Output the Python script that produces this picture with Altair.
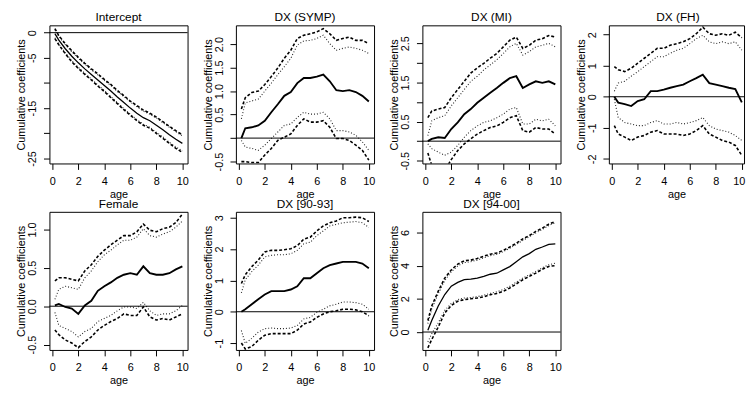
import json
import altair as alt
import pandas as pd

FONT = "Liberation Sans"

AGE = [0.2, 0.5, 1.0, 1.5, 2.0, 2.5, 3.0, 3.5, 4.0, 4.5, 5.0,
       5.5, 6.0, 6.5, 7.0, 7.5, 8.0, 8.5, 9.0, 9.5, 10.0]

PANELS = ["Intercept", "DX (SYMP)", "DX (MI)", "DX (FH)",
          "Female", "DX [90-93]", "DX [94-00]"]

# cumulative coefficient estimates (solid)
EST = {
    "Intercept": [-0.2, -1.5, -3.2, -4.7, -6.0, -7.2, -8.3, -9.4, -10.5, -11.6, -12.8,
                  -13.9, -15.0, -16.0, -16.9, -17.5, -18.4, -19.3, -20.3, -21.2, -22.0],
    "DX (SYMP)": [0.0, 0.21, 0.23, 0.27, 0.37, 0.55, 0.72, 0.90, 0.98, 1.17, 1.28,
                  1.28, 1.31, 1.35, 1.21, 1.02, 1.00, 1.02, 0.98, 0.90, 0.78],
    "DX (MI)": [0.0, 0.06, 0.10, 0.08, 0.31, 0.48, 0.69, 0.82, 0.98, 1.11, 1.24,
                1.36, 1.49, 1.61, 1.66, 1.36, 1.45, 1.53, 1.49, 1.53, 1.45],
    "DX (FH)": [0.0, -0.19, -0.24, -0.30, -0.14, -0.08, 0.18, 0.18, 0.23, 0.29, 0.34,
                0.39, 0.50, 0.60, 0.71, 0.44, 0.39, 0.34, 0.29, 0.25, -0.18],
    "Female": [0.01, 0.03, -0.01, -0.03, -0.10, 0.01, 0.07, 0.20, 0.26, 0.31, 0.37,
               0.41, 0.43, 0.41, 0.52, 0.43, 0.41, 0.41, 0.43, 0.48, 0.52],
    "DX [90-93]": [0.0, 0.08, 0.24, 0.40, 0.55, 0.66, 0.66, 0.66, 0.71, 0.81, 1.07,
                   1.07, 1.23, 1.39, 1.49, 1.54, 1.59, 1.59, 1.59, 1.54, 1.39],
    "DX [94-00]": [0.10, 0.69, 1.57, 2.26, 2.76, 2.99, 3.15, 3.19, 3.25, 3.35, 3.48,
                   3.54, 3.74, 3.94, 4.23, 4.53, 4.72, 4.98, 5.12, 5.28, 5.31],
}

# outer (dashed) upper / lower curves
OUTER_HI = {
    "Intercept": [0.8, -0.6, -2.2, -3.6, -4.9, -6.1, -7.2, -8.2, -9.3, -10.3, -11.5,
                  -12.5, -13.6, -14.5, -15.4, -16.0, -16.8, -17.7, -18.6, -19.5, -20.3],
    "DX (SYMP)": [0.62, 0.86, 0.97, 1.00, 1.14, 1.31, 1.49, 1.70, 1.87, 2.12, 2.19,
                  2.22, 2.26, 2.33, 2.22, 2.08, 2.12, 2.15, 2.08, 2.08, 2.01],
    "DX (MI)": [0.60, 0.77, 0.82, 0.86, 1.11, 1.32, 1.53, 1.74, 1.87, 1.99, 2.12,
                2.24, 2.41, 2.58, 2.66, 2.37, 2.45, 2.58, 2.62, 2.70, 2.66],
    "DX (FH)": [0.97, 0.87, 0.81, 0.92, 1.08, 1.24, 1.40, 1.56, 1.56, 1.66, 1.71,
                1.77, 1.87, 2.03, 2.24, 2.03, 1.98, 2.03, 1.98, 2.08, 1.90],
    "Female": [0.33, 0.37, 0.37, 0.35, 0.33, 0.46, 0.54, 0.65, 0.73, 0.80, 0.86,
               0.92, 0.92, 0.97, 1.07, 0.99, 0.97, 1.01, 1.03, 1.09, 1.20],
    "DX [90-93]": [0.90, 1.18, 1.44, 1.65, 1.91, 1.96, 1.96, 1.98, 2.01, 2.11, 2.32,
                   2.38, 2.58, 2.74, 2.84, 2.90, 3.00, 3.00, 3.02, 3.00, 2.88],
    "DX [94-00]": [0.69, 1.57, 2.46, 3.25, 3.74, 4.09, 4.29, 4.33, 4.43, 4.57, 4.69,
                   4.76, 4.92, 5.12, 5.35, 5.61, 5.81, 6.06, 6.26, 6.50, 6.65],
}
OUTER_LO = {
    "Intercept": [-1.2, -2.4, -4.2, -5.8, -7.1, -8.3, -9.4, -10.6, -11.7, -12.9, -14.1,
                  -15.3, -16.4, -17.5, -18.4, -19.0, -20.0, -21.0, -22.0, -23.0, -23.8],
    "DX (SYMP)": [-0.50, -0.50, -0.52, -0.52, -0.36, -0.22, -0.05, 0.02, 0.09, 0.27, 0.41,
                  0.34, 0.34, 0.37, 0.23, -0.01, -0.01, -0.05, -0.15, -0.26, -0.47],
    "DX (MI)": [-0.30, -0.62, -0.72, -0.75, -0.47, -0.24, -0.07, 0.06, 0.18, 0.27, 0.35,
                0.39, 0.48, 0.60, 0.65, 0.27, 0.23, 0.35, 0.31, 0.31, 0.18],
    "DX (FH)": [-0.93, -1.20, -1.30, -1.41, -1.30, -1.25, -1.14, -1.09, -1.20, -1.20, -1.20,
                -1.25, -1.20, -1.09, -0.93, -1.20, -1.30, -1.41, -1.46, -1.57, -1.89],
    "Female": [-0.31, -0.37, -0.44, -0.48, -0.54, -0.46, -0.40, -0.31, -0.25, -0.20, -0.16,
               -0.10, -0.12, -0.12, -0.01, -0.14, -0.18, -0.16, -0.18, -0.14, -0.10],
    "DX [90-93]": [-1.00, -1.19, -1.11, -0.91, -0.75, -0.70, -0.70, -0.70, -0.70, -0.59, -0.39,
                   -0.33, -0.18, -0.07, 0.00, 0.03, 0.08, 0.08, 0.06, 0.00, -0.13],
    "DX [94-00]": [-0.95, -0.45, 0.30, 1.15, 1.60, 1.85, 1.95, 2.00, 2.05, 2.12, 2.25,
                   2.32, 2.45, 2.65, 2.90, 3.15, 3.35, 3.55, 3.78, 3.95, 4.00],
}

# inner (dotted) upper / lower curves
INNER_HI = {
    "Intercept": [0.6, -0.7, -2.4, -3.8, -5.1, -6.3, -7.4, -8.4, -9.5, -10.5, -11.7,
                  -12.7, -13.8, -14.7, -15.6, -16.2, -17.0, -17.9, -18.8, -19.7, -20.5],
    "DX (SYMP)": [0.41, 0.75, 0.79, 0.83, 1.00, 1.17, 1.35, 1.52, 1.70, 1.98, 2.07,
                  2.08, 2.12, 2.19, 2.01, 1.87, 1.91, 1.94, 1.91, 1.87, 1.80],
    "DX (MI)": [0.14, 0.52, 0.60, 0.65, 0.90, 1.11, 1.32, 1.53, 1.66, 1.82, 1.95,
                2.08, 2.24, 2.41, 2.50, 2.20, 2.29, 2.41, 2.45, 2.50, 2.41],
    "DX (FH)": [0.18, 0.44, 0.50, 0.66, 0.81, 0.97, 1.13, 1.29, 1.29, 1.40, 1.50,
                1.56, 1.71, 1.87, 1.98, 1.77, 1.71, 1.77, 1.71, 1.77, 1.50],
    "Female": [0.09, 0.22, 0.26, 0.24, 0.22, 0.37, 0.46, 0.58, 0.67, 0.73, 0.80,
               0.86, 0.86, 0.90, 1.01, 0.92, 0.90, 0.94, 0.97, 1.03, 1.11],
    "DX [90-93]": [0.60, 1.02, 1.28, 1.49, 1.75, 1.80, 1.82, 1.82, 1.85, 1.96, 2.17,
                   2.22, 2.43, 2.58, 2.74, 2.79, 2.84, 2.86, 2.88, 2.84, 2.69],
    "DX [94-00]": [0.50, 1.40, 2.30, 3.10, 3.62, 3.98, 4.18, 4.23, 4.33, 4.47, 4.60,
                   4.68, 4.84, 5.04, 5.27, 5.52, 5.73, 5.97, 6.18, 6.42, 6.58],
}
INNER_LO = {
    "Intercept": [-1.0, -2.3, -4.0, -5.6, -6.9, -8.1, -9.2, -10.4, -11.5, -12.7, -13.9,
                  -15.1, -16.2, -17.3, -18.2, -18.8, -19.8, -20.7, -21.8, -22.7, -23.5],
    "DX (SYMP)": [-0.05, -0.19, -0.22, -0.26, -0.15, -0.01, 0.13, 0.27, 0.30, 0.44, 0.55,
                  0.51, 0.51, 0.55, 0.41, 0.16, 0.16, 0.13, 0.06, -0.08, -0.26],
    "DX (MI)": [-0.07, -0.19, -0.28, -0.36, -0.28, -0.11, 0.10, 0.27, 0.39, 0.48, 0.52,
                0.60, 0.69, 0.82, 0.86, 0.44, 0.44, 0.56, 0.52, 0.56, 0.39],
    "DX (FH)": [-0.08, -0.67, -0.83, -0.88, -0.93, -0.93, -0.83, -0.77, -0.88, -0.88, -0.83,
                -0.88, -0.83, -0.77, -0.67, -0.93, -1.04, -1.09, -1.14, -1.25, -1.41],
    "Female": [-0.08, -0.25, -0.29, -0.33, -0.40, -0.33, -0.29, -0.20, -0.16, -0.12, -0.06,
               -0.01, -0.01, -0.03, 0.05, -0.06, -0.12, -0.10, -0.10, -0.06, 0.01],
    "DX [90-93]": [-0.60, -1.01, -0.85, -0.65, -0.54, -0.52, -0.54, -0.54, -0.52, -0.44, -0.23,
                   -0.18, -0.02, 0.08, 0.19, 0.24, 0.31, 0.31, 0.29, 0.24, 0.08],
    "DX [94-00]": [-0.60, -0.10, 0.55, 1.30, 1.72, 1.95, 2.05, 2.08, 2.13, 2.22, 2.33,
                   2.42, 2.56, 2.76, 3.00, 3.25, 3.45, 3.65, 3.87, 4.05, 4.15],
}

X_DOMAIN = [-0.22, 10.4]
X_DOMAIN_LAST = [-0.22, 10.17]   # right-most panel is cut by the page edge
X_TICKS = [0, 2, 4, 6, 8, 10]

Y_DOMAIN = {
    "Intercept": [-26.0, 1.45], "DX (SYMP)": [-0.54, 2.40], "DX (MI)": [-0.57, 2.96],
    "DX (FH)": [-2.15, 2.30], "Female": [-0.57, 1.23], "DX [90-93]": [-1.22, 3.19],
    "DX [94-00]": [-1.08, 7.24],
}
Y_TICKS = {
    "Intercept": [-25, -20, -15, -10, -5, 0],
    "DX (SYMP)": [-0.5, 0.0, 0.5, 1.0, 1.5, 2.0],
    "DX (MI)": [-0.5, 0.0, 0.5, 1.0, 1.5, 2.0, 2.5],
    "DX (FH)": [-2, -1, 0, 1, 2],
    "Female": [-0.5, 0.0, 0.5, 1.0],
    "DX [90-93]": [-1, 0, 1, 2, 3],
    "DX [94-00]": [0, 2, 4, 6],
}
Y_LABELLED = {
    "Intercept": [-25, -15, -5, 0],
    "DX (SYMP)": [-0.5, 0.5, 1.0, 1.5, 2.0],
    "DX (MI)": [-0.5, 0.5, 1.5, 2.5],
    "DX (FH)": [-2, -1, 0, 1, 2],
    "Female": [-0.5, 0.0, 0.5, 1.0],
    "DX [90-93]": [-1, 0, 1, 2, 3],
    "DX [94-00]": [0, 2, 4, 6],
}
Y_FORMAT = {
    "Intercept": "d", "DX (SYMP)": ".1f", "DX (MI)": ".1f", "DX (FH)": "d",
    "Female": ".1f", "DX [90-93]": "d", "DX [94-00]": "d",
}

SERIES = {"est": EST, "outer_hi": OUTER_HI, "outer_lo": OUTER_LO,
          "inner_hi": INNER_HI, "inner_lo": INNER_LO}

rows = []
for p in PANELS:
    for s, table in SERIES.items():
        for a, v in zip(AGE, table[p]):
            rows.append({"panel": p, "series": s, "age": a, "value": v})
df = pd.DataFrame(rows)

W, H = 140, 140
PX_PER_UNIT = W / (X_DOMAIN[1] - X_DOMAIN[0])


def panel(p):
    d = df[df.panel == p]
    last = p == "DX (FH)"
    xdom = X_DOMAIN_LAST if last else X_DOMAIN
    w = round((xdom[1] - xdom[0]) * PX_PER_UNIT)
    label_expr = (f"indexof({json.dumps(Y_LABELLED[p])}, datum.value) >= 0 ? "
                  f"replace(format(datum.value, '{Y_FORMAT[p]}'), '\u2212', '-') : ''")
    xaxis_kw = dict(values=X_TICKS, format="d", title="age",
                    labelAlign="center", labelBaseline="top", labelPadding=6,
                    titleX=w / 2, titleY=34, titleAlign="center",
                    titleBaseline="alphabetic")
    if last:
        xaxis_kw["labelOffset"] = {"condition": {"test": "datum.value == 10", "value": -3},
                                   "value": 0}
    x = alt.X("age:Q",
              scale=alt.Scale(domain=xdom, nice=False, zero=False),
              axis=alt.Axis(**xaxis_kw))
    y = alt.Y("value:Q",
              scale=alt.Scale(domain=Y_DOMAIN[p], nice=False, zero=False),
              axis=alt.Axis(values=Y_TICKS[p], labelExpr=label_expr,
                            title="Cumulative coefficients",
                            labelAngle=270, labelAlign="center",
                            labelBaseline="alphabetic", labelPadding=8,
                            titleAngle=270, titleX=-25, titleY=H / 2,
                            titleAlign="center", titleBaseline="alphabetic"))
    smooth = p in ("Intercept", "DX [94-00]")
    zero = alt.Chart(pd.DataFrame({"value": [0.0]})).mark_rule(
        color="black", strokeWidth=1).encode(y=y)
    base = alt.Chart(d)
    inner = base.transform_filter(
        "datum.series == 'inner_hi' || datum.series == 'inner_lo'"
    ).mark_line(clip=True, color="black", strokeWidth=1.1, strokeDash=[1, 2],
                opacity=0.85).encode(x=x, y=y, detail="series:N")
    outer = base.transform_filter(
        "datum.series == 'outer_hi' || datum.series == 'outer_lo'"
    ).mark_line(clip=True, color="black", strokeWidth=1.6, strokeDash=[3, 2]).encode(
        x=x, y=y, detail="series:N")
    est = base.transform_filter("datum.series == 'est'").mark_line(
        clip=True, color="black", strokeWidth=1.3 if smooth else 1.9).encode(x=x, y=y)
    # panel heading, drawn just above the plot frame
    heading = alt.Chart(pd.DataFrame({"name": [p]})).mark_text(
        font=FONT, fontSize=12, fontWeight="normal", color="black",
        align="center", baseline="alphabetic"
    ).encode(text="name:N", x=alt.value(W / 2), y=alt.value(-4))
    return alt.layer(zero, inner, outer, est, heading).properties(width=w, height=H)


chart = alt.concat(
    *[panel(p) for p in PANELS], columns=4,
    spacing=alt.RowColnumber(row=49, column=49), bounds="flush"
).properties(
    padding={"left": 7, "top": 0, "right": 0, "bottom": 0},
    background="white",
).configure_view(
    stroke="black", strokeWidth=1
).configure_axis(
    domain=False, grid=False, ticks=True, tickColor="black", tickSize=6, tickWidth=1,
    labelFont=FONT, labelFontSize=11, labelColor="black",
    titleFont=FONT, titleFontSize=11, titleFontWeight="normal", titleColor="black",
    labelOverlap=False, labelBound=False,
)

chart.save("out.html", embed_options={"renderer": "svg", "actions": False})
